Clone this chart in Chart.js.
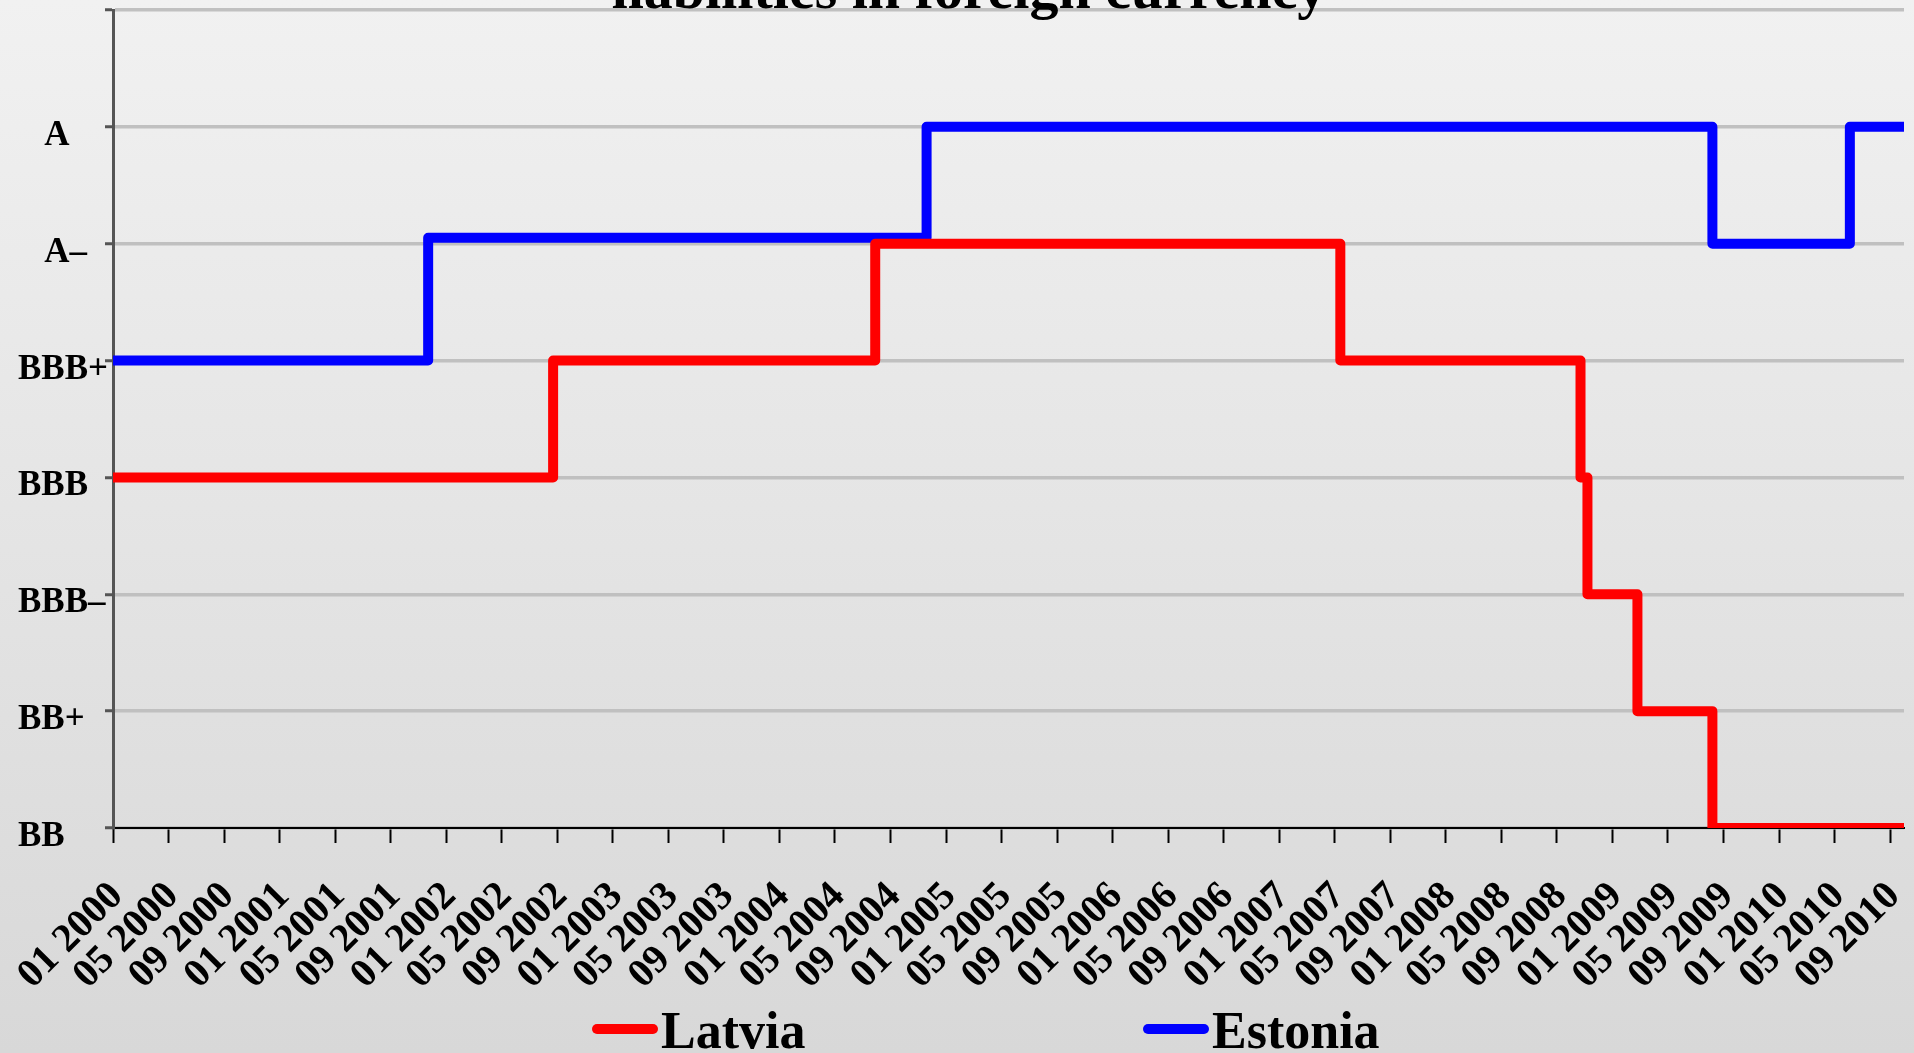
<!DOCTYPE html>
<html>
<head>
<meta charset="utf-8">
<script src="https://cdn.jsdelivr.net/npm/chart.js@4.4.1/dist/chart.umd.min.js"></script>
<style>
  html, body { margin: 0; padding: 0; }
  body {
    width: 1914px;
    height: 1053px;
    overflow: hidden;
    background: linear-gradient(to bottom, #f1f1f1 0%, #d8d8d8 100%);
  }
  #ratings { display: block; }
</style>
</head>
<body>
<canvas id="ratings" width="1914" height="1053"></canvas>
<script>
// Rating scale from bottom to top; the top step (A+) bounds the axis and stays unlabelled
const ratingLabels = ['BB', 'BB+', 'BBB–', 'BBB', 'BBB+', '   A–', '   A', ''];

// Month ticks, one every four months from January 2000
const monthTickLabels = [
  '01 2000', '05 2000', '09 2000',
  '01 2001', '05 2001', '09 2001',
  '01 2002', '05 2002', '09 2002',
  '01 2003', '05 2003', '09 2003',
  '01 2004', '05 2004', '09 2004',
  '01 2005', '05 2005', '09 2005',
  '01 2006', '05 2006', '09 2006',
  '01 2007', '05 2007', '09 2007',
  '01 2008', '05 2008', '09 2008',
  '01 2009', '05 2009', '09 2009',
  '01 2010', '05 2010', '09 2010'
];
const monthsPerTick = 4;
const lastMonth = 129;

// Rating changes: month counted from January 2000, rating as a step on ratingLabels
const latviaMonths  = [0, 31.7, 54.9, 88.4, 105.7, 106.2, 109.8, 115.2, 129];
const latviaRatings = [3, 4, 5, 4, 3, 2, 1, 0, 0];

const estoniaMonths  = [0, 22.7, 58.6, 115.2, 125.1, 129];
const estoniaRatings = [4, 5.05, 6, 5, 6, 6];

const seriesNames = ['Latvia', 'Estonia'];
const seriesColors = ['#ff0000', '#0000ff'];

const serif = '"Liberation Serif", "Times New Roman", serif';

const toPoints = (xs, ys) => xs.map((x, i) => ({ x, y: ys[i] }));

// Second line of the heading, sitting at the very top edge
const headingPlugin = {
  id: 'headingLine',
  afterDraw(chart) {
    const { ctx } = chart;
    ctx.save();
    ctx.font = `bold 58px ${serif}`;
    ctx.fillStyle = '#000';
    ctx.textAlign = 'center';
    ctx.textBaseline = 'alphabetic';
    ctx.fillText('liabilities in foreign currency', 969, 8);
    ctx.restore();
  }
};

// Line-sample key under the axis labels
const keyPlugin = {
  id: 'seriesKey',
  afterDraw(chart) {
    const { ctx } = chart;
    const starts = [592, 1143];
    const lineY = 1029;
    ctx.save();
    chart.data.datasets.forEach((ds, i) => {
      const x0 = starts[i];
      ctx.strokeStyle = ds.borderColor;
      ctx.lineWidth = 10;
      ctx.lineCap = 'round';
      ctx.beginPath();
      ctx.moveTo(x0 + 5, lineY);
      ctx.lineTo(x0 + 61, lineY);
      ctx.stroke();
      ctx.font = `bold 52px ${serif}`;
      ctx.fillStyle = '#000';
      ctx.textAlign = 'left';
      ctx.textBaseline = 'alphabetic';
      ctx.fillText(ds.label, x0 + 69, 1048);
    });
    ctx.restore();
  }
};

const lineStyle = {
  borderWidth: 10,
  stepped: true,
  pointRadius: 0,
  pointHoverRadius: 0,
  fill: false,
  borderCapStyle: 'round',
  borderJoinStyle: 'round'
};

new Chart(document.getElementById('ratings'), {
  type: 'line',
  data: {
    datasets: [
      { label: seriesNames[0], data: toPoints(latviaMonths, latviaRatings), borderColor: seriesColors[0], ...lineStyle },
      { label: seriesNames[1], data: toPoints(estoniaMonths, estoniaRatings), borderColor: seriesColors[1], ...lineStyle }
    ]
  },
  options: {
    responsive: false,
    animation: false,
    devicePixelRatio: 1,
    layout: { padding: { top: 10, right: 10, left: 18, bottom: 0 } },
    plugins: {
      legend: { display: false },
      tooltip: { enabled: false },
      title: { display: false }
    },
    scales: {
      x: {
        type: 'linear',
        min: 0,
        max: lastMonth,
        afterBuildTicks: (scale) => {
          scale.ticks = monthTickLabels.map((_, i) => ({ value: i * monthsPerTick }));
        },
        afterFit: (scale) => {
          scale.height = 225;
          scale.paddingLeft = 0;
          scale.paddingRight = 0;
        },
        grid: {
          drawOnChartArea: false,
          drawTicks: true,
          tickLength: 15,
          tickColor: '#000',
          tickWidth: 2
        },
        border: { color: '#000', width: 2 },
        ticks: {
          autoSkip: false,
          minRotation: 45,
          maxRotation: 45,
          padding: 30,
          labelOffset: 4,
          color: '#000',
          font: { family: serif, weight: 'bold', size: 40 },
          callback: (v) => monthTickLabels[Math.round(v / monthsPerTick)]
        }
      },
      y: {
        type: 'linear',
        min: 0,
        max: ratingLabels.length - 1,
        afterBuildTicks: (scale) => {
          scale.ticks = ratingLabels.map((_, i) => ({ value: i }));
        },
        afterFit: (scale) => {
          scale.width = 95;
          scale.paddingTop = 0;
          scale.paddingBottom = 0;
        },
        grid: {
          color: '#c0c0c0',
          lineWidth: 3.5,
          drawTicks: true,
          tickLength: 8,
          tickColor: '#555',
          tickWidth: 3
        },
        border: { color: '#555', width: 3 },
        ticks: {
          crossAlign: 'far',
          labelOffset: 9,
          color: '#000',
          font: { family: serif, weight: 'bold', size: 35 },
          callback: (v) => ratingLabels[Math.round(v)]
        }
      }
    }
  },
  plugins: [headingPlugin, keyPlugin]
});
</script>
</body>
</html>
